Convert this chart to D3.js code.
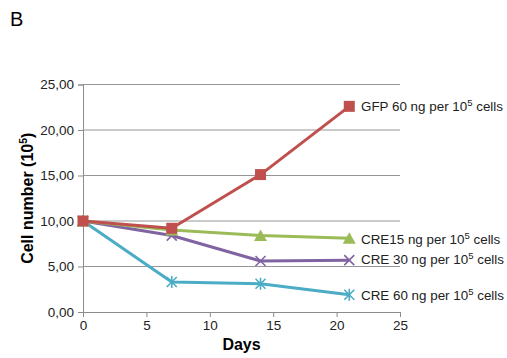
<!DOCTYPE html>
<html>
<head>
<meta charset="utf-8">
<script src="https://cdn.jsdelivr.net/npm/d3@7"></script>
<style>
  body { margin: 0; background: #fff; }
  text { font-family: "Liberation Sans", Arial, sans-serif; }
</style>
</head>
<body>
<div id="chart"></div>
<script>
const days = [0, 7, 14, 21];
const gfp60 = [10.0, 9.2, 15.1, 22.6];
const cre15 = [10.0, 9.0, 8.4, 8.1];
const cre30 = [10.0, 8.4, 5.6, 5.7];
const cre60 = [10.0, 3.3, 3.1, 1.9];
const yTicks = [0, 5, 10, 15, 20, 25];
const xTicks = [0, 5, 10, 15, 20, 25];

const series = [
  { name: 'GFP 60 ng per 10', values: gfp60, color: '#C0504D', marker: 'square' },
  { name: 'CRE15 ng per 10', values: cre15, color: '#9BBB59', marker: 'triangle' },
  { name: 'CRE 30 ng per 10', values: cre30, color: '#8064A2', marker: 'x' },
  { name: 'CRE 60 ng per 10', values: cre60, color: '#4BACC6', marker: 'star' }
];
// label y positions; null = level with last point
const labelY = [null, 239, 259, 295];

const width = 507, height = 358;
const svg = d3.select('#chart').append('svg')
  .attr('width', width).attr('height', height);

const x = d3.scaleLinear().domain([0, 25]).range([83, 400]);
const y = d3.scaleLinear().domain([0, 25]).range([312, 84.5]);
const fmt = d => d3.format('.2f')(d).replace('.', ',');

// gridlines
svg.append('g').selectAll('line').data(yTicks.slice(1)).enter().append('line')
  .attr('x1', x(0)).attr('x2', x(25))
  .attr('y1', d => y(d)).attr('y2', d => y(d))
  .attr('stroke', '#969696').attr('stroke-width', 1);

// y axis
const yAxis = svg.append('g').attr('transform', `translate(${x(0)},0)`)
  .call(d3.axisLeft(y).tickValues(yTicks).tickFormat(fmt).tickSize(5).tickPadding(4));
yAxis.select('.domain').attr('stroke', '#8c8c8c');
yAxis.selectAll('.tick line').attr('stroke', '#8c8c8c');
yAxis.selectAll('text').attr('font-size', 13.5).attr('fill', '#222')
  .style('font-family', '"Liberation Sans", Arial, sans-serif');

// x axis
const xAxis = svg.append('g').attr('transform', `translate(0,${y(0)})`)
  .call(d3.axisBottom(x).tickValues(xTicks).tickSize(5).tickPadding(3));
xAxis.select('.domain').attr('stroke', '#8c8c8c');
xAxis.selectAll('.tick line').attr('stroke', '#8c8c8c');
xAxis.selectAll('text').attr('font-size', 13.5).attr('fill', '#222')
  .style('font-family', '"Liberation Sans", Arial, sans-serif');

// axis titles
svg.append('text').attr('x', x(12.5)).attr('y', 350)
  .attr('text-anchor', 'middle').attr('font-size', 16).attr('font-weight', 'bold')
  .text('Days');
const yt = svg.append('text')
  .attr('transform', `translate(33,${y(12.5)}) rotate(-90)`)
  .attr('text-anchor', 'middle').attr('font-size', 16).attr('font-weight', 'bold');
yt.append('tspan').text('Cell number (10');
yt.append('tspan').attr('font-size', 10.5).attr('dy', -6).text('5');
yt.append('tspan').attr('dy', 6).text(')');

// panel letter
svg.append('text').attr('x', 10).attr('y', 26).attr('font-size', 20).text('B');

const line = d3.line().x((d, i) => x(days[i])).y(d => y(d));

function drawMarker(g, type, color) {
  if (type === 'square') {
    g.append('rect').attr('x', -5.5).attr('y', -5.5).attr('width', 11).attr('height', 11)
      .attr('fill', color);
  } else if (type === 'triangle') {
    g.append('path').attr('d', 'M0,-6L6.5,5.5L-6.5,5.5Z').attr('fill', color);
  } else if (type === 'x') {
    g.append('path').attr('d', 'M-5,-5L5,5M-5,5L5,-5').attr('stroke', color).attr('stroke-width', 1.6);
  } else {
    g.append('path').attr('d', 'M-5,-5L5,5M-5,5L5,-5M0,-6L0,6').attr('stroke', color).attr('stroke-width', 1.6);
  }
}

series.slice().reverse().forEach(s => {
  svg.append('path').datum(s.values)
    .attr('d', line).attr('fill', 'none')
    .attr('stroke', s.color).attr('stroke-width', 3).attr('stroke-linejoin', 'round');
});
series.slice().reverse().forEach(s => {
  s.values.forEach((v, i) => {
    const g = svg.append('g').attr('transform', `translate(${x(days[i])},${y(v)})`);
    drawMarker(g, s.marker, s.color);
  });
});

// series labels
series.forEach((s, k) => {
  const last = s.values[s.values.length - 1];
  const ly = labelY[k] != null ? labelY[k] : y(last);
  const t = svg.append('text').attr('x', 361).attr('y', ly).attr('dy', '0.35em')
    .attr('font-size', 13.4).attr('fill', '#222');
  t.append('tspan').text(s.name);
  t.append('tspan').attr('font-size', 9.5).attr('dy', -5).text('5');
  t.append('tspan').attr('dy', 5).text(' cells');
});
</script>
</body>
</html>
